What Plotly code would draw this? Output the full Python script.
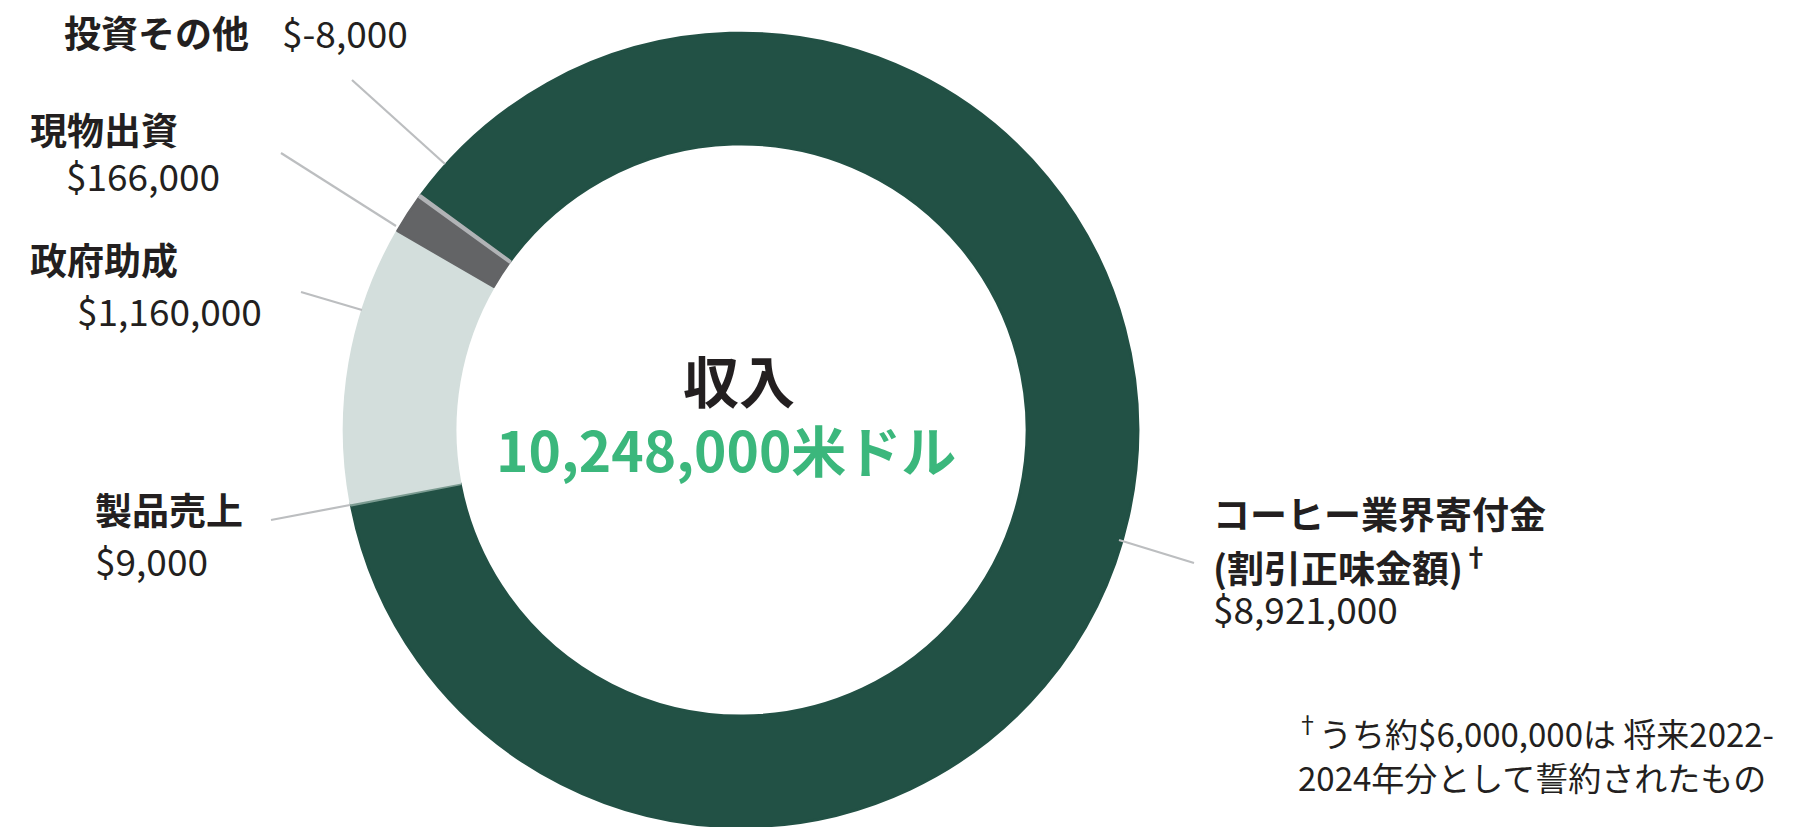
import plotly.graph_objects as go

# ---- data ----
categories = ["コーヒー業界寄付金（割引正味金額）", "製品売上", "政府助成", "現物出資", "投資その他"]
values = [8921000, 9000, 1160000, 166000, -8000]
slice_colors = ["#225145", "#7b9b91", "#d3dedc", "#636466", "#b1b3b6"]

W, H = 1800, 827
OFF = 8  # browser body margin
FONT = "Noto Sans CJK JP"
TXT = "#231f20"
LINE = "#bcbec0"

total = sum(values)
plot_values = [abs(v) for v in values]

CX, CY, R = 741 - OFF, 430 - OFF, 397

fig = go.Figure()
fig.add_trace(go.Pie(
    labels=categories,
    values=plot_values,
    sort=False,
    direction="clockwise",
    rotation=-53.8,
    hole=0.72,
    marker=dict(colors=slice_colors, line=dict(width=2.6, color=slice_colors)),
    textinfo="none",
    hoverinfo="label+value",
    showlegend=False,
    domain=dict(x=[(CX - R) / W, (CX + R) / W], y=[1 - (CY + R) / H, 1 - (CY - R) / H]),
))


def px(x):
    return (x - OFF) / W


def py(y):
    return 1 - (y - OFF) / H


def money(v):
    return f"${v:,}"


ann = []


def add_text(text, x, y, size, bold=False, color=TXT, xanchor="left"):
    ann.append(dict(
        text=f"<b>{text}</b>" if bold else text,
        x=px(x), y=py(y), xref="paper", yref="paper",
        xanchor=xanchor, yanchor="middle", showarrow=False,
        font=dict(family=FONT, size=size, color=color),
    ))


vals = dict(zip(categories, values))

LS, VS = 37, 37
# labels
add_text("投資その他", 62, 32, LS, bold=True)
add_text(money(vals["投資その他"]), 280, 32, VS)
add_text("現物出資", 28, 129, LS, bold=True)
add_text(money(vals["現物出資"]), 64, 175, VS)
add_text("政府助成", 28, 259, LS, bold=True)
add_text(money(vals["政府助成"]), 75, 310, VS)
add_text("製品売上", 93, 509, LS, bold=True)
add_text(money(vals["製品売上"]), 93, 560, VS)
add_text("コーヒー業界寄付金", 1211, 513, LS, bold=True)
add_text("(割引正味金額)<sup>†</sup>", 1211, 565, LS, bold=True)
add_text(money(vals["コーヒー業界寄付金（割引正味金額）"]), 1211, 608, VS)

# footnote
add_text("<sup>†</sup>うち約$6,000,000は 将来2022-", 1294, 731, 33)
add_text("2024年分として誓約されたもの", 1296, 777, 33)

# centre
add_text("収入", 739, 379, 56, bold=True, xanchor="center")
add_text(f"{total:,}米ドル", 726, 448, 55, bold=True, color="#3bb77c", xanchor="center")

fig.update_layout(annotations=ann)

# leader lines
leaders = [
    ((352, 80), (445, 164)),
    ((281, 153), (396, 226)),
    ((301, 292), (362, 310)),
    ((271, 520), (350, 505)),
    ((1119, 540), (1194, 563)),
]
for (x0, y0), (x1, y1) in leaders:
    fig.add_shape(type="line", xref="paper", yref="paper",
                  x0=px(x0), y0=py(y0), x1=px(x1), y1=py(y1),
                  line=dict(color=LINE, width=2.2))

fig.update_layout(
    width=W, height=H,
    margin=dict(l=0, r=0, t=0, b=0),
    paper_bgcolor="white", plot_bgcolor="white",
)

fig.write_html("out.html")
